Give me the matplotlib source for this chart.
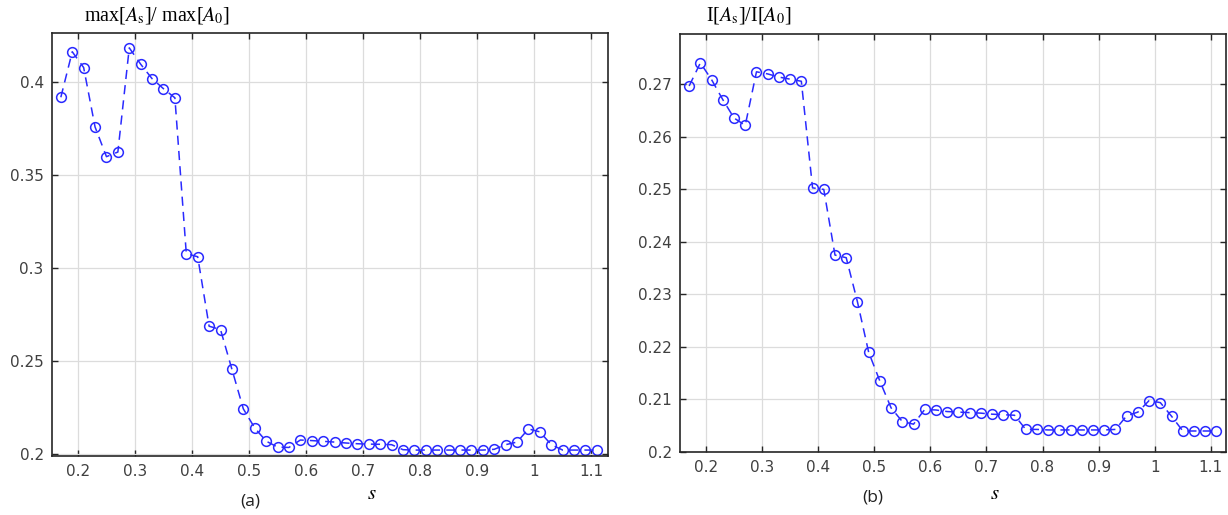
import numpy as np
import matplotlib
matplotlib.use("Agg")
import matplotlib.pyplot as plt

plt.rcParams['mathtext.fontset'] = 'stix'

# s values (0.17 ... 1.11, step 0.02)
s = np.round(np.arange(0.17, 1.1101, 0.02), 2)

max_ratio = [0.392, 0.4165, 0.408, 0.376, 0.360, 0.3625, 0.4186, 0.4098, 0.402, 0.3966,
             0.3917, 0.3078, 0.3061, 0.2687, 0.2669, 0.2455, 0.2242, 0.2139, 0.2068, 0.2036,
             0.2034, 0.2074, 0.2071, 0.2067, 0.2063, 0.2058, 0.2054, 0.2052, 0.2051, 0.2049,
             0.2022, 0.2020, 0.2020, 0.2020, 0.2020, 0.2020, 0.2020, 0.2020, 0.2024, 0.2049,
             0.2063, 0.2134, 0.2118, 0.2049, 0.2020, 0.2020, 0.2020, 0.2020]

int_ratio = [0.2697, 0.2741, 0.2709, 0.2671, 0.2636, 0.2622, 0.2724, 0.2720, 0.2714, 0.2710,
             0.2706, 0.2503, 0.2500, 0.2375, 0.2370, 0.2286, 0.2190, 0.2135, 0.2084, 0.2058,
             0.2053, 0.2081, 0.2080, 0.2077, 0.2076, 0.2075, 0.2074, 0.2072, 0.2071, 0.2070,
             0.2043, 0.2043, 0.2042, 0.2042, 0.2042, 0.2042, 0.2042, 0.2042, 0.2043, 0.2069,
             0.2076, 0.2098, 0.2094, 0.2068, 0.2040, 0.2040, 0.2040, 0.2040]

xticks = [0.2, 0.3, 0.4, 0.5, 0.6, 0.7, 0.8, 0.9, 1.0, 1.1]
xticklabels = ['0.2', '0.3', '0.4', '0.5', '0.6', '0.7', '0.8', '0.9', '1', '1.1']
yticks_a = [0.2, 0.25, 0.3, 0.35, 0.4]
yticklabels_a = ['0.2', '0.25', '0.3', '0.35', '0.4']
yticks_b = [0.2, 0.21, 0.22, 0.23, 0.24, 0.25, 0.26, 0.27]
yticklabels_b = ['0.2', '0.21', '0.22', '0.23', '0.24', '0.25', '0.26', '0.27']

W, H = 1228, 515
fig = plt.figure(figsize=(W / 100, H / 100), dpi=100)

line_color = '#2a2aff'
tick_color = '#404040'
serif = 'Liberation Serif'


def make_axes(rect, y, yticks, yticklabels, ylim, xlim, title, title_x, xlab_x, cap, cap_x, cap_y):
    ax = fig.add_axes([rect[0] / W, 1 - rect[3] / H, (rect[2] - rect[0]) / W, (rect[3] - rect[1]) / H])
    ax.plot(s, y, linestyle=(0, (6, 4)), color=line_color, linewidth=1.1,
            marker='o', markersize=7, markerfacecolor='none', markeredgecolor=line_color,
            markeredgewidth=1.1)
    ax.set_xlim(*xlim)
    ax.set_ylim(*ylim)
    ax.set_xticks(xticks)
    ax.set_xticklabels(xticklabels)
    ax.set_yticks(yticks)
    ax.set_yticklabels(yticklabels)
    ax.grid(True, color='#dcdcdc', linewidth=0.9)
    ax.set_axisbelow(True)
    ax.tick_params(axis='both', which='major', direction='in', length=4, width=1,
                   colors='#262626', labelcolor=tick_color, labelsize=11,
                   top=True, right=True, pad=6)
    for sp in ax.spines.values():
        sp.set_linewidth(1.2)
        sp.set_color('#262626')
    fig.text(title_x / W, 1 - 15 / H, title, family=serif, fontsize=14.5,
             ha='left', va='center', color='black')
    fig.text(xlab_x / W, 1 - 493 / H, r'$s$', fontsize=15, ha='center', va='center')
    fig.text(cap_x / W, 1 - cap_y / H, cap, family='Open Sans', fontsize=12.5,
             ha='center', va='center', color='#202020')
    return ax


make_axes((52, 33, 608, 456), max_ratio, yticks_a, yticklabels_a, (0.1988, 0.4266),
          (0.1545, 1.1295), r'max[$A_{\mathrm{s}}$]/ max[$A_0$]', 84, 372, '(a)', 250, 502)
make_axes((680, 34, 1226, 452), int_ratio, yticks_b, yticklabels_b, (0.2, 0.2796),
          (0.1537, 1.127), r'I[$A_{\mathrm{s}}$]/I[$A_0$]', 706, 995, '(b)', 873, 497)

fig.savefig('out.png', dpi=100)
